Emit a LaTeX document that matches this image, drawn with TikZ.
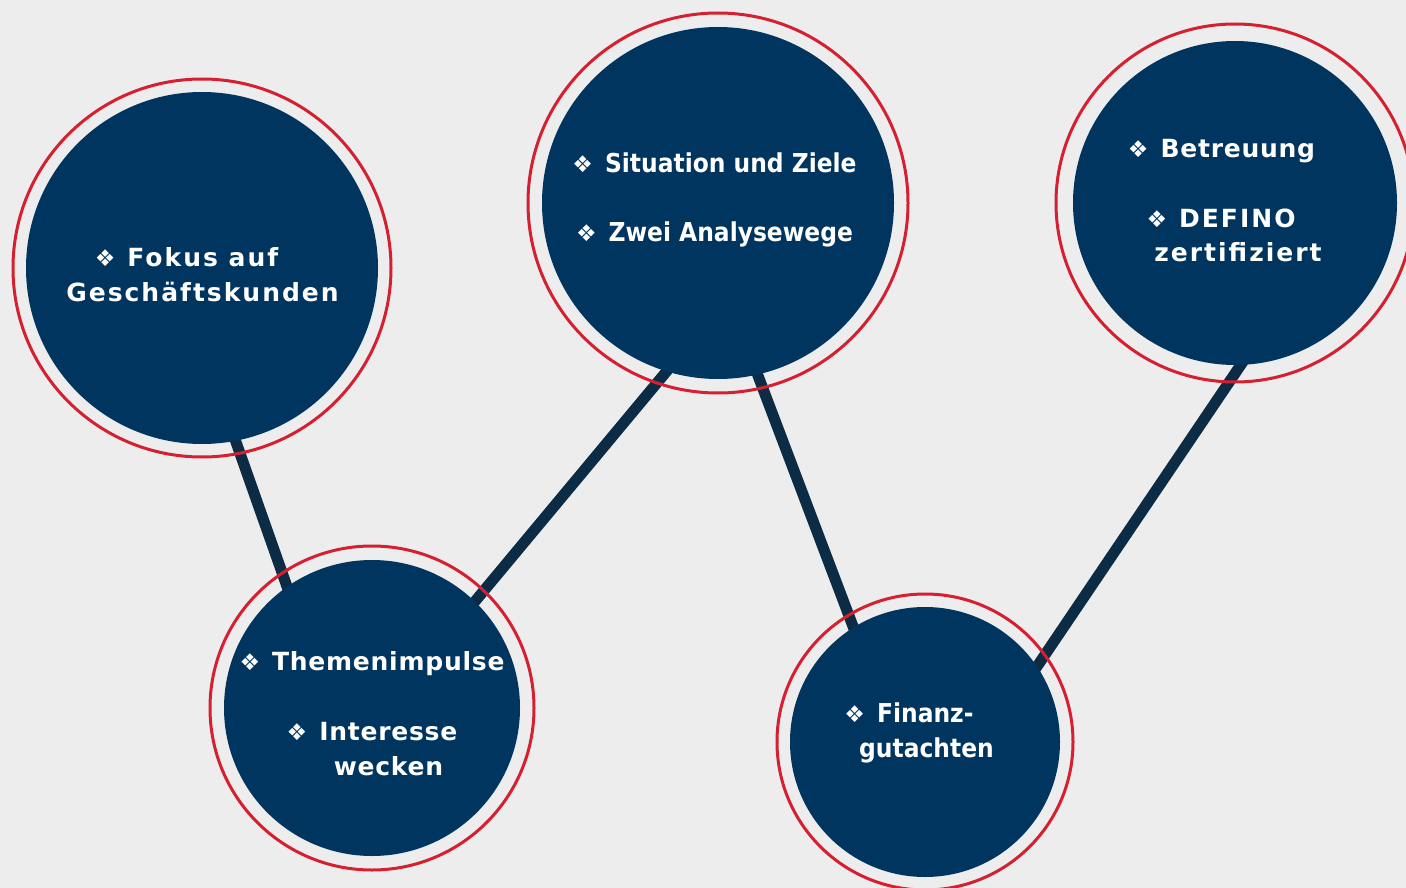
\documentclass[tikz,border=0pt]{standalone}
\usepackage{fontspec}
\setmainfont{DejaVu Sans}
\newfontfamily\vwide[LetterSpace=8]{DejaVu Sans}
\newfontfamily\vnorm[LetterSpace=3]{DejaVu Sans}
\newfontfamily\tcond{DejaVu Sans Condensed}
\newfontfamily\bulfont{DejaVu Sans}
\definecolor{bgc}{HTML}{EDEDED}
\definecolor{navyc}{HTML}{003560}
\definecolor{redc}{HTML}{D42030}
\definecolor{linec}{HTML}{0C2B45}
\pgfdeclarelayer{bglayer}
\pgfdeclarelayer{lines}
\pgfsetlayers{bglayer,lines,main}
\newcommand{\bul}{{\bulfont\fontsize{23}{23}\selectfont\mdseries ❖}\hspace{12pt}}
\begin{document}
\begin{tikzpicture}[x=1pt,y=-1pt,
  disc/.style={circle, fill=navyc, draw=none, inner sep=0pt, minimum size=#1},
  ring/.style={draw=redc, line width=3pt},
  conn/.style={draw=linec, line width=11pt, shorten <=-10pt, shorten >=-10pt},
  txtw/.style={text=white, anchor=base, inner sep=0pt, font=\vwide\fontsize{25}{30}\selectfont\bfseries},
  txtn/.style={text=white, anchor=base, inner sep=0pt, font=\vnorm\fontsize{25}{30}\selectfont\bfseries},
  txtc/.style={text=white, anchor=base, inner sep=0pt, font=\tcond\fontsize{26}{30}\selectfont\bfseries}]
\useasboundingbox (0,0) rectangle (1406,888);
\begin{pgfonlayer}{bglayer}
\fill[bgc] (0,0) rectangle (1406,888);
\end{pgfonlayer}
\clip (0,0) rectangle (1406,888);
% discs
\node[disc=352pt] (c1) at (202,268) {};
\node[disc=296pt] (c2) at (372,708) {};
\node[disc=352pt] (c3) at (718,203) {};
\node[disc=270pt] (c4) at (925,742) {};
\node[disc=324pt] (c5) at (1235,203) {};
% rings
\draw[ring] (c1.center) circle (189pt);
\draw[ring] (c2.center) circle (162pt);
\draw[ring] (c3.center) circle (190pt);
\draw[ring] (c4.center) circle (148pt);
\draw[ring] (c5.center) circle (179pt);
% connectors
\begin{pgfonlayer}{lines}
\draw[conn] (c1.-79) -- (c2.125);
\draw[conn] (c2.46) -- (c3.-107);
\draw[conn] (c3.-77) -- (c4.122);
\draw[conn] (c4.34) -- (c5.-88);
\end{pgfonlayer}
% texts
\node[txtw] (t1a) at (186.5,266) {\bul Fokus auf};
\node[txtw] (t1b) at (202.5,301) {Geschäftskunden};
\node[txtn] (t2a) at (372,670) {\bul Themenimpulse};
\node[txtn] (t2b) at (372,740) {\bul Interesse};
\node[txtn] (t2c) at (388.5,775) {wecken};
\node[txtc] (t3a) at (714.5,172) {\bul Situation und Ziele};
\node[txtc] (t3b) at (714.5,241) {\bul Zwei Analysewege};
\node[txtc] (t4a) at (909,722) {\bul Finanz-};
\node[txtc] (t4b) at (926.5,757) {gutachten};
\node[txtn] (t5a) at (1221.5,158) {\bul Betreuung};
\node[txtw] (t5b) at (1221,227) {\bul DEFINO};
\node[txtw] (t5c) at (1238,261) {zertifiziert};
\end{tikzpicture}
\end{document}
